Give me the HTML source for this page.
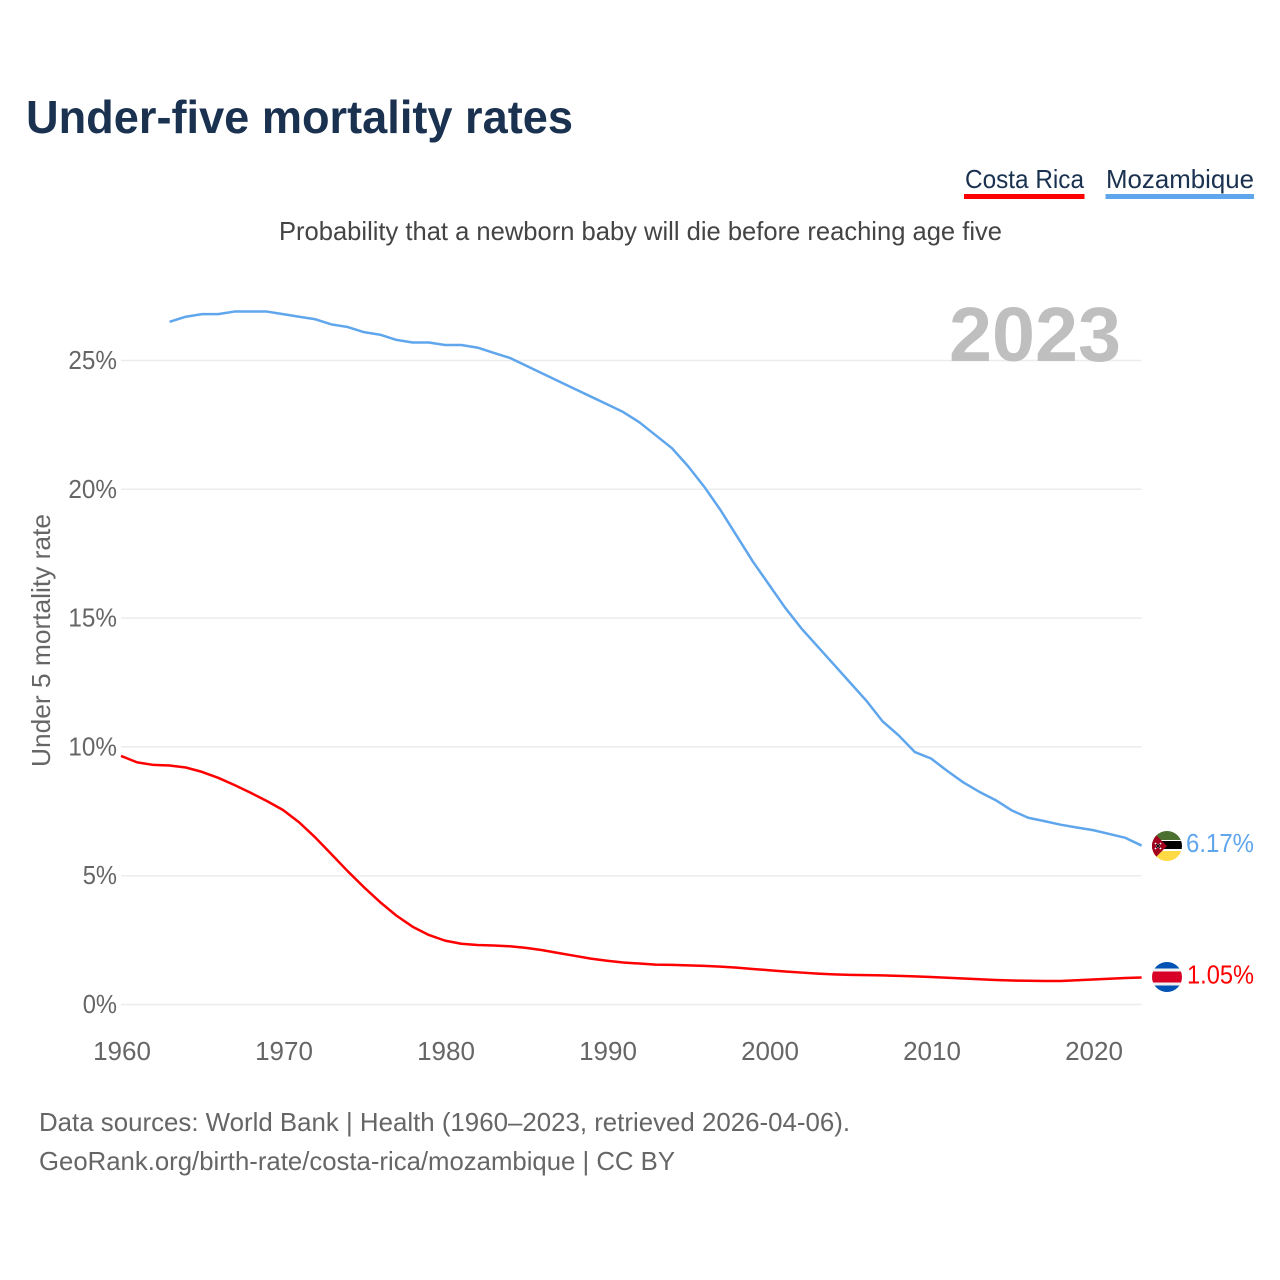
<!DOCTYPE html>
<html lang="en">
<head>
<meta charset="utf-8">
<title>Under-five mortality rates</title>
<style>
html,body{margin:0;padding:0;background:#fff;}
svg{display:block;font-family:"Liberation Sans",sans-serif;}
</style>
</head>
<body>
<svg id="chart" xmlns="http://www.w3.org/2000/svg" width="1280" height="1280" viewBox="0 0 1280 1280">
  <rect x="0" y="0" width="1280" height="1280" fill="#fff"/>
  <text x="26" y="133" font-size="46" font-weight="bold" fill="#1a3150" textLength="547" lengthAdjust="spacingAndGlyphs">Under-five mortality rates</text>
  <g>
    <text x="965" y="188" font-size="26" fill="#1a3150" textLength="119" lengthAdjust="spacingAndGlyphs">Costa Rica</text>
    <rect x="964" y="194" width="120.500" height="5" fill="#ff0000"/>
  </g>
  <g>
    <text x="1106" y="188" font-size="26" fill="#1a3150" textLength="148" lengthAdjust="spacingAndGlyphs">Mozambique</text>
    <rect x="1105.500" y="194" width="148.500" height="5" fill="#5fa6ed"/>
  </g>
  <text x="279" y="240" font-size="26" fill="#444" textLength="723" lengthAdjust="spacingAndGlyphs">Probability that a newborn baby will die before reaching age five</text>
  <text transform="translate(50,767) rotate(-90)" font-size="26" fill="#666" textLength="253" lengthAdjust="spacingAndGlyphs">Under 5 mortality rate</text>
  <g id="grid"></g>
  <g id="y-ticks"></g>
  <g id="x-ticks"></g>
  <text x="949" y="361" font-size="77" font-weight="bold" fill="#bfbfbf" textLength="172" lengthAdjust="spacingAndGlyphs">2023</text>
  <path id="line-costa-rica" fill="none" stroke="#ff0000" stroke-width="2.500" stroke-linejoin="round"/>
  <path id="line-mozambique" fill="none" stroke="#5fa6ed" stroke-width="2.500" stroke-linejoin="round"/>
  <defs>
    <clipPath id="clip-moz"><circle cx="1167" cy="846" r="15"/></clipPath>
    <clipPath id="clip-cr"><circle cx="1167" cy="977" r="15"/></clipPath>
  </defs>
  <g id="flag-mozambique" clip-path="url(#clip-moz)">
    <rect x="1152" y="831" width="30" height="30" fill="#fff"/>
    <rect x="1152" y="831" width="30" height="9" fill="#4b7030"/>
    <rect x="1152" y="841" width="30" height="8" fill="#000"/>
    <rect x="1152" y="851" width="30" height="10" fill="#ffda44"/>
    <polygon points="1152,831 1167,846 1152,861" fill="#a2001d"/>
    <path d="M1155 843 L1161 849 M1161 843 L1155 849" stroke="#fff" stroke-width="1.500"/>
    <path d="M1156 844 L1160 848 M1160 844 L1156 848" stroke="#000" stroke-width="1"/>
  </g>
  <g id="flag-costa-rica" clip-path="url(#clip-cr)">
    <rect x="1152" y="962" width="30" height="30" fill="#f0f0f0"/>
    <rect x="1152" y="962" width="30" height="6.500" fill="#0052b4"/>
    <rect x="1152" y="985.500" width="30" height="6.500" fill="#0052b4"/>
    <rect x="1152" y="971.500" width="30" height="11" fill="#d80027"/>
  </g>
  <text id="value-mozambique" x="1186" y="852" font-size="26" fill="#5fa6ed" textLength="68" lengthAdjust="spacingAndGlyphs"></text>
  <text id="value-costa-rica" x="1187" y="983.500" font-size="26" fill="#ff0000" textLength="67" lengthAdjust="spacingAndGlyphs"></text>
  <text x="39" y="1131" font-size="26" fill="#666" textLength="811" lengthAdjust="spacingAndGlyphs">Data sources: World Bank | Health (1960–2023, retrieved 2026-04-06).</text>
  <text x="39" y="1170" font-size="26" fill="#666" textLength="636" lengthAdjust="spacingAndGlyphs">GeoRank.org/birth-rate/costa-rica/mozambique | CC BY</text>
</svg>
<script>
const costaRicaStartYear = 1960;
const costaRicaValues = [
  9.65, 9.40, 9.30, 9.28, 9.20, 9.03, 8.80, 8.52, 8.22, 7.90,
  7.55, 7.07, 6.48, 5.83, 5.17, 4.55, 3.97, 3.45, 3.02, 2.70,
  2.48, 2.36, 2.31, 2.29, 2.26, 2.20, 2.11, 2.00, 1.89, 1.78,
  1.70, 1.63, 1.59, 1.55, 1.54, 1.52, 1.50, 1.47, 1.43, 1.38,
  1.33, 1.28, 1.24, 1.20, 1.17, 1.15, 1.14, 1.13, 1.11, 1.09,
  1.07, 1.04, 1.01, 0.98, 0.95, 0.93, 0.92, 0.91, 0.91, 0.94,
  0.97, 1.00, 1.03, 1.05
];
const mozambiqueStartYear = 1963;
const mozambiqueValues = [
  26.5, 26.7, 26.8, 26.8, 26.9, 26.9, 26.9,
  26.8, 26.7, 26.6, 26.4, 26.3, 26.1, 26.0, 25.8, 25.7, 25.7,
  25.6, 25.6, 25.5, 25.3, 25.1, 24.8, 24.5, 24.2, 23.9, 23.6,
  23.3, 23.0, 22.6, 22.1, 21.6, 20.9, 20.1, 19.2, 18.2, 17.2,
  16.3, 15.4, 14.6, 13.9, 13.2, 12.5, 11.8, 11.0, 10.45, 9.8,
  9.55, 9.07, 8.62, 8.25, 7.93, 7.53, 7.25, 7.12, 6.98, 6.87,
  6.77, 6.62, 6.47, 6.17
];
const xTickYears = [1960, 1970, 1980, 1990, 2000, 2010, 2020];
const yTickValues = [0, 5, 10, 15, 20, 25];

const SVG_NS = 'http://www.w3.org/2000/svg';
function xScale(year) { return 121 + (year - 1960) * 16.2; }
function yScale(value) { return 1004.5 - value * 25.76; }
function linePath(values, startYear) {
  return values.map(function (v, i) {
    return (i ? 'L' : 'M') + xScale(startYear + i).toFixed(2) + ' ' + yScale(v).toFixed(2);
  }).join(' ');
}

const gridGroup = document.getElementById('grid');
const yGroup = document.getElementById('y-ticks');
const xGroup = document.getElementById('x-ticks');

yTickValues.forEach(function (v) {
  const line = document.createElementNS(SVG_NS, 'line');
  
  
  line.setAttribute('x1', 121);
  line.setAttribute('x2', 1141.6);
  line.setAttribute('y1', yScale(v));
  line.setAttribute('y2', yScale(v));
  line.setAttribute('stroke', '#ececec');
  line.setAttribute('stroke-width', '1.5');
  gridGroup.appendChild(line);

  const label = document.createElementNS(SVG_NS, 'text');
  
  
  label.setAttribute('x', 117);
  label.setAttribute('y', yScale(v) + 8.5);
  label.setAttribute('text-anchor', 'end');
  label.setAttribute('font-size', '26');
  label.setAttribute('fill', '#666');
  label.setAttribute('textLength', String(v).length * 14.3 + 20);
  label.setAttribute('lengthAdjust', 'spacingAndGlyphs');
  label.textContent = v + '%';
  yGroup.appendChild(label);
});

xTickYears.forEach(function (year) {
  const label = document.createElementNS(SVG_NS, 'text');
  
  
  label.setAttribute('x', xScale(year) + 1);
  label.setAttribute('y', 1060);
  label.setAttribute('text-anchor', 'middle');
  label.setAttribute('font-size', '26');
  label.setAttribute('fill', '#666');
  label.textContent = year;
  xGroup.appendChild(label);
});

document.getElementById('line-costa-rica').setAttribute('d', linePath(costaRicaValues, costaRicaStartYear));
document.getElementById('line-mozambique').setAttribute('d', linePath(mozambiqueValues, mozambiqueStartYear));
document.getElementById('value-costa-rica').textContent = costaRicaValues[costaRicaValues.length - 1].toFixed(2) + '%';
document.getElementById('value-mozambique').textContent = mozambiqueValues[mozambiqueValues.length - 1].toFixed(2) + '%';
</script>
</body>
</html>
